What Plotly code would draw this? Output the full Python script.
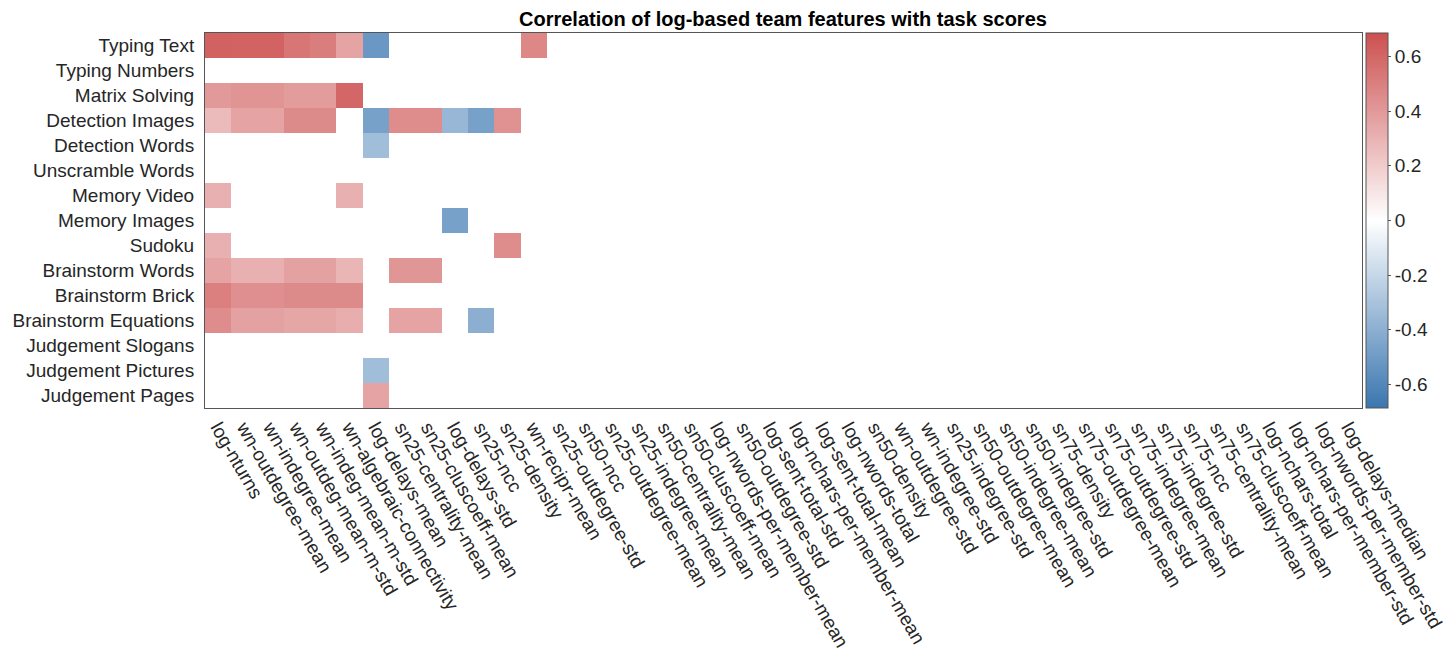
import plotly.graph_objects as go

# tasks (rows, top to bottom) and log-based features (columns)
tasks = [
    "Typing Text", "Typing Numbers", "Matrix Solving", "Detection Images",
    "Detection Words", "Unscramble Words", "Memory Video", "Memory Images",
    "Sudoku", "Brainstorm Words", "Brainstorm Brick", "Brainstorm Equations",
    "Judgement Slogans", "Judgement Pictures", "Judgement Pages",
]

features = [
    "log-nturns", "wn-outdegree-mean", "wn-indegree-mean", "wn-outdeg-mean-m-std",
    "wn-indeg-mean-m-std", "wn-algebraic-connectivity", "log-delays-mean",
    "sn25-centrality-mean", "sn25-cluscoeff-mean", "log-delays-std", "sn25-ncc",
    "sn25-density", "wn-recipr-mean", "sn25-outdegree-std", "sn50-ncc",
    "sn25-outdegree-mean", "sn25-indegree-mean", "sn50-centrality-mean",
    "sn50-cluscoeff-mean", "log-nwords-per-member-mean", "sn50-outdegree-std",
    "log-sent-total-std", "log-nchars-per-member-mean", "log-sent-total-mean",
    "log-nwords-total", "sn50-density", "wn-outdegree-std", "wn-indegree-std",
    "sn25-indegree-std", "sn50-outdegree-mean", "sn50-indegree-mean",
    "sn50-indegree-std", "sn75-density", "sn75-outdegree-mean", "sn75-outdegree-std",
    "sn75-indegree-mean", "sn75-indegree-std", "sn75-ncc", "sn75-centrality-mean",
    "sn75-cluscoeff-mean", "log-nchars-total", "log-nchars-per-member-std",
    "log-nwords-per-member-std", "log-delays-median",
]

N = None
# significant correlations for the first 13 features, blank (None) otherwise
typing_text = [0.62, 0.61, 0.61, 0.54, 0.51, 0.36, -0.52, N, N, N, N, N, 0.47]
typing_numbers = [N] * 13
matrix_solving = [0.40, 0.42, 0.42, 0.39, 0.39, 0.60, N, N, N, N, N, N, N]
detection_images = [0.27, 0.36, 0.36, 0.46, 0.46, N, -0.47, 0.45, 0.45, -0.36, -0.47, 0.43, N]
detection_words = [N, N, N, N, N, N, -0.33, N, N, N, N, N, N]
unscramble_words = [N] * 13
memory_video = [0.31, N, N, N, N, 0.31, N, N, N, N, N, N, N]
memory_images = [N, N, N, N, N, N, N, N, N, -0.47, N, N, N]
sudoku = [0.31, N, N, N, N, N, N, N, N, N, N, 0.45, N]
brainstorm_words = [0.36, 0.31, 0.31, 0.37, 0.37, 0.29, N, 0.41, 0.41, N, N, N, N]
brainstorm_brick = [0.50, 0.44, 0.44, 0.46, 0.46, 0.46, N, N, N, N, N, N, N]
brainstorm_equations = [0.45, 0.37, 0.37, 0.35, 0.35, 0.32, N, 0.36, 0.36, N, -0.40, N, N]
judgement_slogans = [N] * 13
judgement_pictures = [N, N, N, N, N, N, -0.33, N, N, N, N, N, N]
judgement_pages = [N, N, N, N, N, N, 0.36, N, N, N, N, N, N]

rows = [
    typing_text, typing_numbers, matrix_solving, detection_images, detection_words,
    unscramble_words, memory_video, memory_images, sudoku, brainstorm_words,
    brainstorm_brick, brainstorm_equations, judgement_slogans, judgement_pictures,
    judgement_pages,
]
z = [r + [N] * (len(features) - len(r)) for r in rows]

zlim = 0.686
colorscale = [
    [0.0, "rgb(58,118,176)"],
    [0.5, "rgb(255,255,255)"],
    [1.0, "rgb(205,80,80)"],
]

font_family = "Liberation Sans, Arial, Helvetica, sans-serif"
text_color = "#262626"
line_color = "#555555"

fig = go.Figure(
    go.Heatmap(
        z=z,
        x=features,
        y=tasks,
        zmin=-zlim,
        zmax=zlim,
        colorscale=colorscale,
        hoverongaps=False,
        colorbar=dict(
            x=1.0035,
            xanchor="left",
            xpad=0,
            y=0.5,
            yanchor="middle",
            ypad=0,
            len=1,
            lenmode="fraction",
            thickness=22,
            outlinecolor=line_color,
            outlinewidth=1,
            tickvals=[-0.6, -0.4, -0.2, 0, 0.2, 0.4, 0.6],
            ticktext=["-0.6", "-0.4", "-0.2", "0", "0.2", "0.4", "0.6"],
            ticks="outside",
            ticklen=3,
            tickcolor=line_color,
            tickfont=dict(size=19, color=text_color, family=font_family),
        ),
    )
)

# the page body adds an 8px offset, so margins are shifted by that much
fig.update_layout(
    width=1452,
    height=659,
    margin=dict(l=197, r=98, t=25, b=259),
    paper_bgcolor="white",
    plot_bgcolor="white",
    font=dict(family=font_family, color=text_color),
    title=dict(
        text="<b>Correlation of log-based team features with task scores</b>",
        x=0.5337,
        xanchor="center",
        y=0.983,
        yanchor="middle",
        font=dict(size=20, color="black", family=font_family),
    ),
)

fig.update_xaxes(
    tickangle=60,
    tickfont=dict(size=19, color=text_color),
    showline=True,
    mirror=True,
    linecolor=line_color,
    linewidth=1,
    ticks="",
    showgrid=False,
    zeroline=False,
    automargin=False,
)
fig.update_yaxes(
    autorange="reversed",
    tickfont=dict(size=19, color=text_color),
    showline=True,
    mirror=True,
    linecolor=line_color,
    linewidth=1,
    ticks="",
    ticklabelstandoff=6,
    showgrid=False,
    zeroline=False,
    automargin=False,
)

fig.write_html("out.html")
